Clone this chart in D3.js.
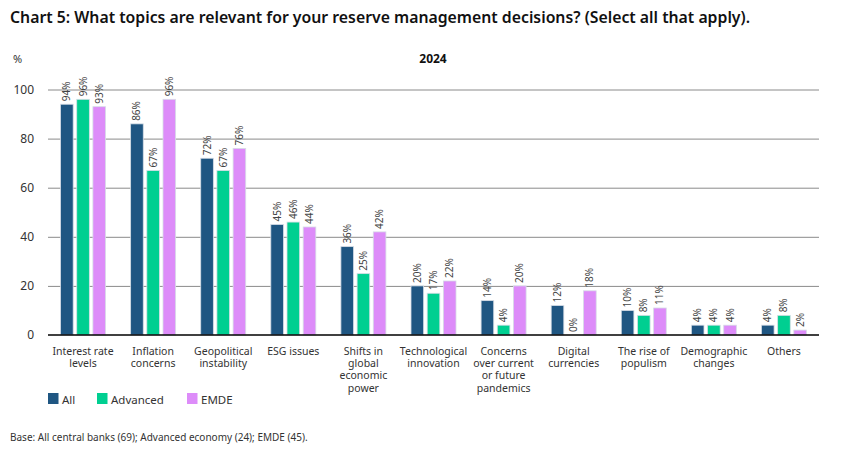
<!DOCTYPE html>
<html><head><meta charset="utf-8">
<script src="https://cdn.jsdelivr.net/npm/d3@7"></script>
<style>body{margin:0;background:#fff;} svg{display:block;font-family:"Noto Sans",sans-serif;}</style>
</head><body>
<svg id="c" width="842" height="453"></svg>
<script>
const categories = [
  ["Interest rate","levels"],["Inflation","concerns"],["Geopolitical","instability"],["ESG issues"],
  ["Shifts in","global","economic","power"],["Technological","innovation"],["Concerns","over current","or future","pandemics"],
  ["Digital","currencies"],["The rise of","populism"],["Demographic","changes"],["Others"]
];
const seriesNames = ["All","Advanced","EMDE"];
const allValues = [94,86,72,45,36,20,14,12,10,4,4];
const advancedValues = [96,67,67,46,25,17,4,0,8,4,8];
const emdeValues = [93,96,76,44,42,22,20,18,11,4,2];
const yTicks = [0,20,40,60,80,100];
const colors = ["#1f5682","#00cf91","#dd8cf9"];

const svg = d3.select("#c");
const seriesVals = [allValues, advancedValues, emdeValues];
const catIdx = d3.range(categories.length);

const x = d3.scaleBand().domain(catIdx).range([48,819]).padding(0);
const xs = d3.scaleBand().domain(seriesNames).range([-22.5,22.5]).paddingInner(0.22);
const y = d3.scaleLinear().domain([0,100]).range([335,89.5]);

// title
svg.append("text").attr("x",10).attr("y",23).attr("font-size",15.8).attr("font-weight",600).attr("fill","#111")
  .text("Chart 5: What topics are relevant for your reserve management decisions? (Select all that apply).");
svg.append("text").attr("x",433).attr("y",63).attr("text-anchor","middle").attr("font-size",12).attr("font-weight",700).attr("fill","#111").text("2024");
svg.append("text").attr("x",13).attr("y",63).attr("font-size",11).attr("fill","#333").text("%");

// gridlines
const yAxis = d3.axisLeft(y).tickValues(yTicks).tickSize(-(819-48)).tickPadding(14);
const gy = svg.append("g").attr("transform","translate(48,0)").call(yAxis);
gy.select(".domain").remove();
gy.selectAll(".tick line").attr("stroke","#8a8a8a").attr("stroke-width",1);
gy.selectAll(".tick text").attr("font-size",12).attr("fill","#333").attr("font-family","Noto Sans");
gy.selectAll(".tick").filter(d=>d===0).select("line").remove();

// bars
const groups = svg.append("g").selectAll("g").data(catIdx).join("g")
  .attr("transform", i => `translate(${x(i)+x.bandwidth()/2},0)`);
seriesNames.forEach((s, si) => {
  groups.append("rect")
    .attr("x", xs(s)).attr("width", xs.bandwidth())
    .attr("y", i => y(seriesVals[si][i])).attr("height", i => y(0)-y(seriesVals[si][i]))
    .attr("fill", colors[si]).attr("stroke","#d6dde6").attr("stroke-width",0.8);
  groups.append("text")
    .attr("transform", i => `translate(${xs(s)+xs.bandwidth()/2},${y(seriesVals[si][i])-3}) rotate(-90)`)
    .attr("dy","0.35em").attr("font-size",10).attr("fill","#444")
    .text(i => seriesVals[si][i] + "%");
});

// x axis line
svg.append("line").attr("x1",48).attr("x2",819).attr("y1",y(0)).attr("y2",y(0)).attr("stroke","#000").attr("stroke-width",1.5);

// x labels (one text element per line)
const lines = [];
catIdx.forEach(i => categories[i].forEach((t,j) => lines.push({i, j, t})));
svg.append("g").selectAll("text").data(lines).join("text")
  .attr("x", d => x(d.i)+x.bandwidth()/2).attr("y", d => 355 + d.j*12.2)
  .attr("text-anchor","middle").attr("font-size",10.5).attr("fill","#333")
  .text(d => d.t);

// legend
const legX = [48,97,187];
seriesNames.forEach((s,si)=>{
  svg.append("rect").attr("x",legX[si]).attr("y",393).attr("width",10.5).attr("height",11).attr("fill",colors[si]);
  svg.append("text").attr("x",legX[si]+14).attr("y",403.5).attr("font-size",11.5).attr("fill","#333").text(s);
});

svg.append("text").attr("x",10).attr("y",441).attr("font-size",10).attr("fill","#333")
  .text("Base: All central banks (69); Advanced economy (24); EMDE (45).");
</script>
</body></html>
